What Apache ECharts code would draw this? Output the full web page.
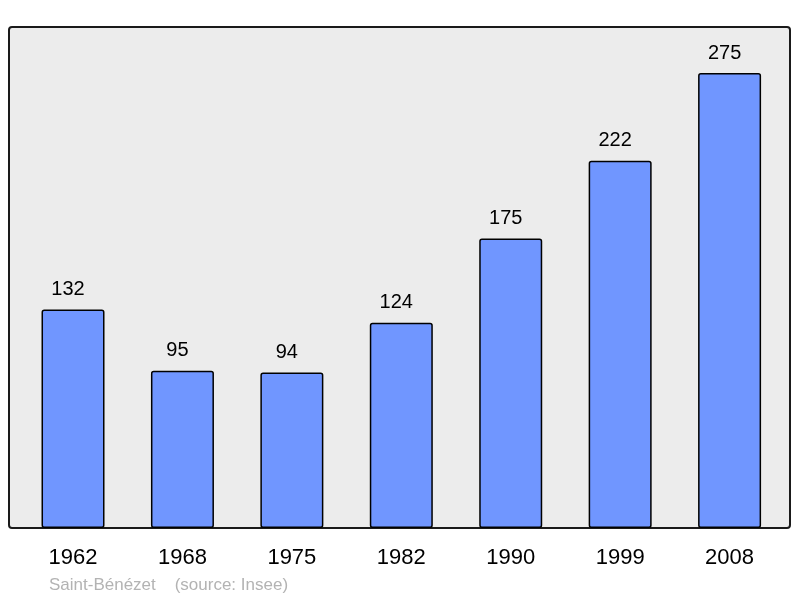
<!DOCTYPE html>
<html>
<head>
<meta charset="utf-8">
<script src="https://cdn.jsdelivr.net/npm/echarts@6/dist/echarts.min.js"></script>
<style>
  html, body { margin: 0; padding: 0; background: #fff; }
  #chart { width: 800px; height: 598px; }
</style>
</head>
<body>
<div id="chart"></div>
<script>
const years = ["1962", "1968", "1975", "1982", "1990", "1999", "2008"];
const population = [132, 95, 94, 124, 175, 222, 275];
const sourceText = "Saint-Bénézet    (source: Insee)";

const chart = echarts.init(document.getElementById("chart"), null, { renderer: "canvas" });

const option = {
  animation: false,
  textStyle: { fontFamily: "Liberation Sans, Arial, sans-serif" },
  title: {
    text: sourceText,
    left: 44,
    top: 572,
    textStyle: {
      color: "#b3b3b3",
      fontSize: 17,
      fontWeight: "normal",
      fontFamily: "Liberation Sans, Arial, sans-serif",
    },
  },
  graphic: [
    {
      type: "rect",
      z: -10,
      shape: { x: 9, y: 27, width: 781, height: 501, r: 3 },
      style: { fill: "#ececec", stroke: "#1a1a1a", lineWidth: 2 },
    },
  ],
  grid: {
    left: 18.3,
    width: 766,
    top: 27,
    height: 501,
  },
  xAxis: {
    type: "category",
    data: years,
    axisLine: { show: false },
    axisTick: { show: false },
    axisLabel: {
      color: "#000",
      fontSize: 22,
      margin: 19,
      fontFamily: "Liberation Sans, Arial, sans-serif",
    },
  },
  yAxis: {
    type: "value",
    min: 0,
    max: 302.8,
    show: false,
    splitLine: { show: false },
  },
  series: [
    {
      type: "bar",
      data: population,
      barWidth: 63,
      itemStyle: {
        color: "#7096ff",
        borderColor: "#000",
        borderWidth: 1.5,
        borderRadius: 2,
      },
      label: {
        show: true,
        position: "top",
        distance: 10,
        offset: [-5, 0],
        color: "#000",
        fontSize: 20,
        fontFamily: "Liberation Sans, Arial, sans-serif",
      },
    },
  ],
};

chart.setOption(option);
</script>
</body>
</html>
